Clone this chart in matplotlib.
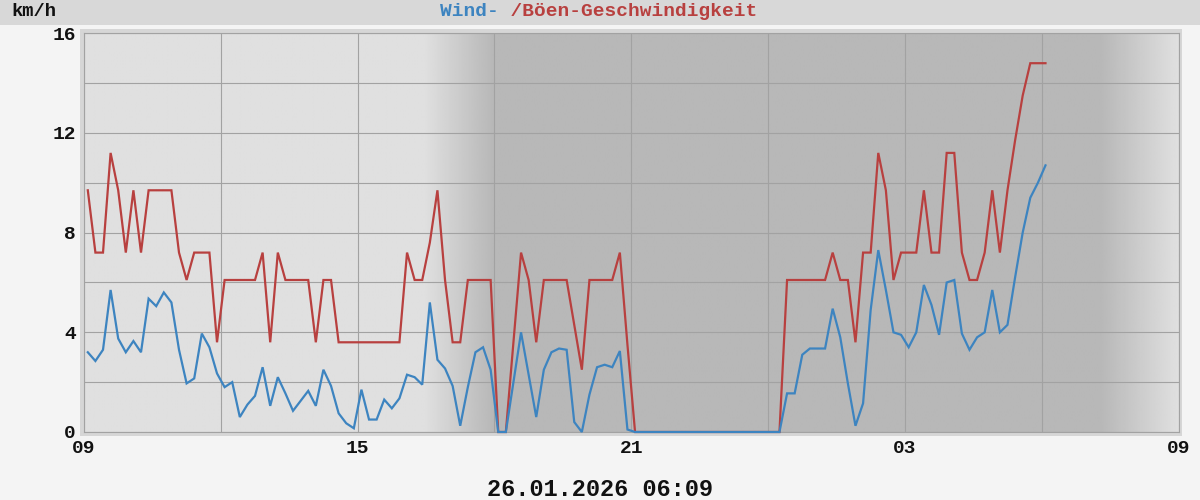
import numpy as np
import matplotlib
matplotlib.use("Agg")
import matplotlib.pyplot as plt
from matplotlib.patches import Rectangle

# ---- data -------------------------------------------------------------
start_offset_h = 5 / 60.0      # first sample at 09:05
step_h = 10 / 60.0             # 10-minute samples

gust_kmh = [
    9.7, 7.2, 7.2, 11.2, 9.7, 7.2, 9.7, 7.2, 9.7, 9.7,
    9.7, 9.7, 7.2, 6.1, 7.2, 7.2, 7.2, 3.6, 6.1, 6.1,
    6.1, 6.1, 6.1, 7.2, 3.6, 7.2, 6.1, 6.1, 6.1, 6.1,
    3.6, 6.1, 6.1, 3.6, 3.6, 3.6, 3.6, 3.6, 3.6, 3.6,
    3.6, 3.6, 7.2, 6.1, 6.1, 7.6, 9.7, 6.1, 3.6, 3.6,
    6.1, 6.1, 6.1, 6.1, 0.0, 0.0, 3.6, 7.2, 6.1, 3.6,
    6.1, 6.1, 6.1, 6.1, 4.3, 2.5, 6.1, 6.1, 6.1, 6.1,
    7.2, 3.5, 0.0, 0.0, 0.0, 0.0, 0.0, 0.0, 0.0, 0.0,
    0.0, 0.0, 0.0, 0.0, 0.0, 0.0, 0.0, 0.0, 0.0, 0.0,
    0.0, 0.0, 6.1, 6.1, 6.1, 6.1, 6.1, 6.1, 7.2, 6.1,
    6.1, 3.6, 7.2, 7.2, 11.2, 9.7, 6.1, 7.2, 7.2, 7.2,
    9.7, 7.2, 7.2, 11.2, 11.2, 7.2, 6.1, 6.1, 7.2, 9.7,
    7.2, 9.7, 11.7, 13.5, 14.8, 14.8, 14.8,
]

wind_kmh = [
    3.2, 2.85, 3.3, 5.7, 3.75, 3.2, 3.65, 3.2, 5.35, 5.05,
    5.6, 5.2, 3.3, 1.95, 2.15, 3.95, 3.4, 2.35, 1.8, 2.0,
    0.6, 1.1, 1.45, 2.6, 1.05, 2.2, 1.55, 0.85, 1.25, 1.65,
    1.05, 2.5, 1.85, 0.75, 0.35, 0.15, 1.7, 0.5, 0.5, 1.3,
    0.95, 1.35, 2.3, 2.2, 1.9, 5.2, 2.9, 2.55, 1.85, 0.25,
    1.8, 3.2, 3.4, 2.5, 0.0, 0.0, 2.0, 4.0, 2.3, 0.6,
    2.5, 3.2, 3.35, 3.3, 0.4, 0.0, 1.5, 2.6, 2.7, 2.6,
    3.25, 0.1, 0.0, 0.0, 0.0, 0.0, 0.0, 0.0, 0.0, 0.0,
    0.0, 0.0, 0.0, 0.0, 0.0, 0.0, 0.0, 0.0, 0.0, 0.0,
    0.0, 0.0, 1.55, 1.55, 3.1, 3.35, 3.35, 3.35, 4.95, 3.8,
    1.95, 0.25, 1.15, 4.9, 7.3, 5.7, 4.0, 3.9, 3.4, 4.0,
    5.9, 5.1, 3.9, 6.0, 6.1, 3.95, 3.3, 3.8, 4.0, 5.7,
    4.0, 4.3, 6.2, 8.0, 9.4, 10.0, 10.7,
]

x_tick_pos = [0, 6, 12, 18, 24]
x_tick_labels = ["09", "15", "21", "03", "09"]
y_tick_pos = [0, 4, 8, 12, 16]
y_tick_labels = ["0", "4", "8", "12", "16"]

unit_label = "km/h"
title_wind = "Wind- "
title_gust = "/Böen-Geschwindigkeit"
timestamp = "26.01.2026 06:09"

# ---- style ------------------------------------------------------------
FONT = ["Liberation Mono", "DejaVu Sans Mono"]
BLUE = "#3d84c0"
RED = "#b8403f"
GRID = "#a2a2a2"

times = start_offset_h + step_h * np.arange(len(wind_kmh))

fig = plt.figure(figsize=(12, 5), dpi=100, facecolor="#f4f4f4")

# top title band
fig.patches.append(Rectangle((0, 1 - 25 / 500), 1, 25 / 500, transform=fig.transFigure,
                             facecolor="#d8d8d8", edgecolor="none", zorder=-5))
# plot frame border
fig.patches.append(Rectangle((80 / 1200, (500 - 436) / 500), 1102 / 1200, 407 / 500,
                             transform=fig.transFigure, facecolor="#d6d6d6",
                             edgecolor="none", zorder=-5))

ax = fig.add_axes([84 / 1200, 68 / 500, 1094.5 / 1200, 398.7 / 500])
ax.set_zorder(1)
ax.set_xlim(0, 24)
ax.set_ylim(0, 16)

# day / night background gradient
xs = np.linspace(0, 24, 1200)
shade = np.interp(xs, [0, 7.45, 8.95, 22.3, 24], [224, 224, 184, 184, 224]) / 255.0
ax.imshow(shade[np.newaxis, :], extent=[0, 24, 0, 16], aspect="auto",
          cmap="gray", vmin=0, vmax=1, zorder=0, interpolation="bilinear")

ax.set_axisbelow(True)
ax.set_xticks(x_tick_pos)
ax.set_xticks(np.arange(0, 25, 3), minor=True)
ax.set_yticks(y_tick_pos)
ax.set_yticks(np.arange(0, 17, 2), minor=True)
ax.grid(which="both", color=GRID, linewidth=0.8, zorder=0.5)
ax.set_xticklabels(x_tick_labels)
ax.set_yticklabels(y_tick_labels)
ax.tick_params(which="both", length=0)
ax.tick_params(axis="x", pad=6)
ax.tick_params(axis="y", pad=6)
for lab in ax.get_xticklabels() + ax.get_yticklabels():
    lab.set_fontfamily(FONT)
    lab.set_fontweight("bold")
    lab.set_fontsize(14)
    lab.set_color("#111111")
for sp in ax.spines.values():
    sp.set_color(GRID)
    sp.set_linewidth(0.8)

ax.plot(times, gust_kmh, color=RED, linewidth=1.6, zorder=4,
        solid_joinstyle="miter", clip_on=False)
ax.plot(times, wind_kmh, color=BLUE, linewidth=1.6, zorder=5,
        solid_joinstyle="miter", clip_on=False)

# texts
fig.text(11 / 1200, 1 - 11 / 500, unit_label, ha="left", va="center",
         fontfamily=FONT, fontweight="bold", fontsize=13.5, color="#111111")
fig.text(598.5 / 1200, 1 - 11 / 500, title_wind + " " * len(title_gust), ha="center",
         va="center", fontfamily=FONT, fontweight="bold", fontsize=14, color=BLUE)
fig.text(598.5 / 1200, 1 - 11 / 500, " " * len(title_wind) + title_gust, ha="center",
         va="center", fontfamily=FONT, fontweight="bold", fontsize=14, color=RED)
fig.text(600 / 1200, 1 - 490 / 500, timestamp, ha="center", va="center",
         fontfamily=FONT, fontweight="bold", fontsize=17, color="#111111")

fig.savefig("out.png", dpi=100, facecolor=fig.get_facecolor())
